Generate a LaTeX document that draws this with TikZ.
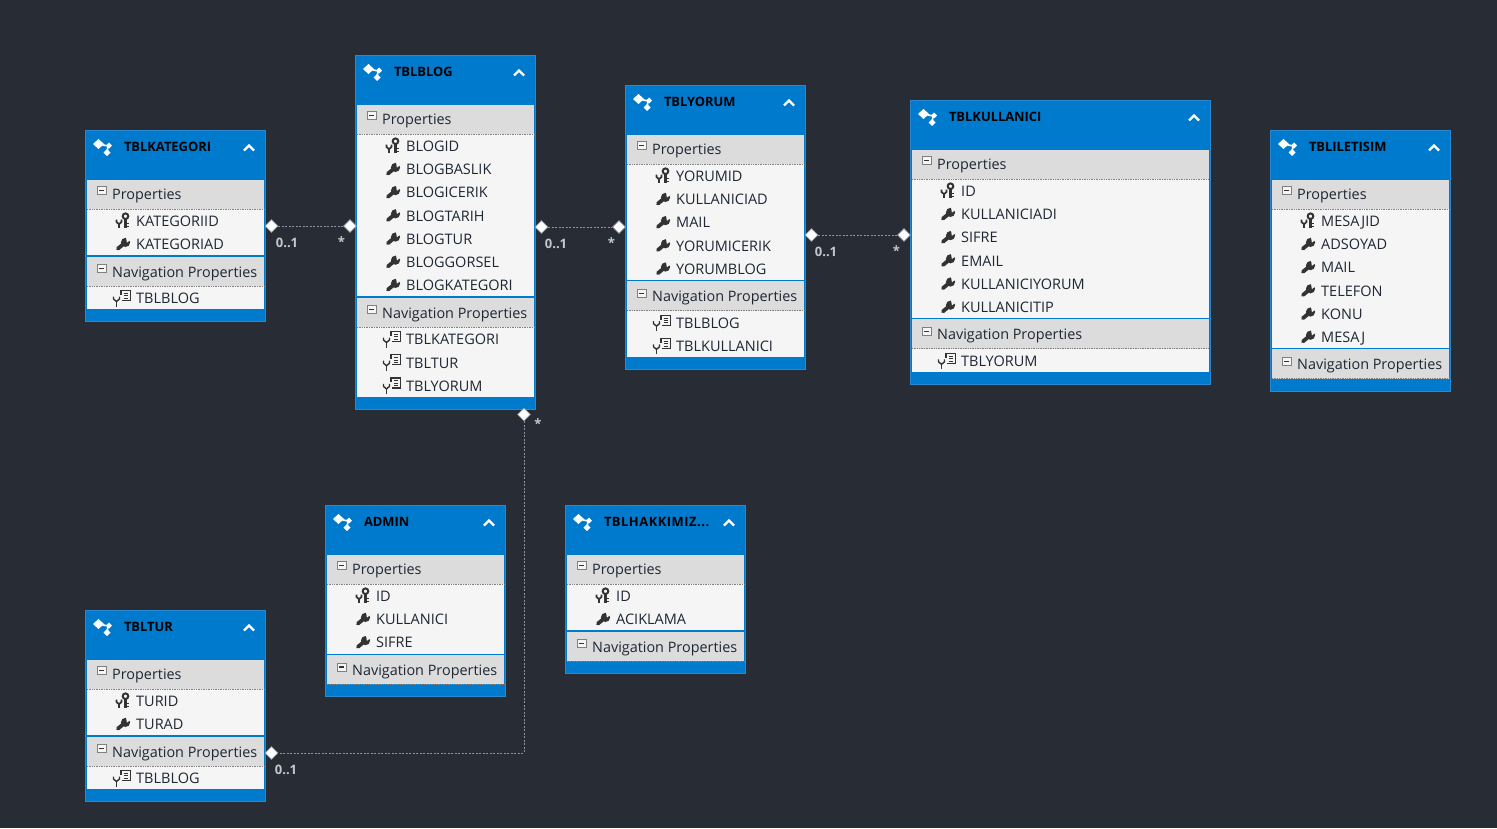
\documentclass[tikz,border=0pt]{standalone}
\usepackage{fontspec}
\setmainfont{Open Sans}
\usetikzlibrary{positioning, shapes.geometric}
\definecolor{canvas}{HTML}{282C35}
\definecolor{headblue}{HTML}{007ACC}
\definecolor{edgeblue}{HTML}{2B88D0}
\definecolor{band}{HTML}{DCDCDC}
\definecolor{rowbg}{HTML}{F5F5F5}
\definecolor{ink}{HTML}{1E2733}
\definecolor{glyph}{HTML}{333333}
\definecolor{linkgray}{HTML}{8A94A3}
\definecolor{cardgray}{HTML}{C4C8CE}

\tikzset{
  entitybox/.style={draw=edgeblue, fill=headblue, line width=1pt, anchor=north west, inner sep=0pt, outer sep=0pt},
  titletext/.style={anchor=base west, inner sep=0pt, text=black, font=\fontsize{12.9}{15}\selectfont\bfseries},
  grouptext/.style={anchor=base west, inner sep=0pt, text=ink, font=\fontsize{14.4}{17}\selectfont},
  rowtext/.style={anchor=base west, inner sep=0pt, text=ink, font=\fontsize{14.5}{17}\selectfont},
  cardtext/.style={inner sep=0pt, text=cardgray, font=\fontsize{13}{15}\selectfont\bfseries},
  enddot/.style={diamond, draw=linkgray, line width=0.6pt, fill=white, minimum width=13pt, minimum height=13pt, inner sep=0pt},
  link/.style={draw=linkgray, line width=1pt, dash pattern=on 2pt off 1.5pt},
  minusicon/.pic={
    \draw[fill=rowbg, draw=gray, line width=0.8pt] (-4.5,-4) rectangle (4.5,4);
    \draw[glyph, line width=1.2pt] (-2.5,0) -- (2.5,0);
  },
  keyicon/.pic={
    \draw[glyph, line width=2pt] (3,-3.8) circle (2.8);
    \draw[glyph, line width=2.4pt] (3,-1) -- (3,8);
    \draw[glyph, line width=1.6pt] (3,3.5) -- (6.5,3.5) (3,6.5) -- (6,6.5);
    \draw[glyph, line width=1.7pt] (-6,-0.5) -- (-6,2) -- (-3.5,4.2) -- (-1,2) -- (-1,-0.5);
    \draw[glyph, line width=2.4pt] (-3.5,4) -- (-3.5,8.3);
  },
  wrenchicon/.pic={
    \draw[glyph, line width=3.8pt, line cap=round] (-4.6,5.4) -- (2,0);
    \fill[glyph] (3,-0.8) circle (4.6);
    \fill[rowbg] (3.4,-6.6) -- (9.4,-4.4) -- (4.4,-0.6) -- cycle;
  },
  navicon/.pic={
    \draw[glyph, line width=1.2pt] (-1.5,-7) rectangle (8,3);
    \draw[glyph, line width=1.1pt] (1,-4) -- (5.5,-4) (1,-1.6) -- (5.5,-1.6) (1,0.8) -- (5.5,0.8);
    \fill[rowbg] (-10,-2.5) rectangle (-0.7,9.5);
    \draw[glyph, line width=1.4pt] (-9,-1) -- (-9,1.5) -- (-6,4) -- (-3,1.5) -- (-3,-1);
    \draw[glyph, line width=1.9pt] (-6,3.5) -- (-6,9);
  },
  crowicon/.pic={
    \draw[white, line width=1.6pt] (-4,-3) -- (5,-1) -- (4,6);
    \fill[white] (-10,-3) -- (-4.5,-8) -- (1,-3) -- (-4.5,2) -- cycle;
    \fill[white] (3,-1.5) -- (6,-4.5) -- (9,-1.5) -- (6,1.5) -- cycle;
    \fill[white] (0.5,5.5) -- (4,2) -- (7.5,5.5) -- (4,9) -- cycle;
  },
}

% one entity: name, x, y, width, title, scalar rows, navigation rows
\newcommand{\entity}[7]{
  \def\nprop{0}
  \def\nnav{0}
  \def\navlist{#7}
  \foreach \p [count=\c] in {#6} {\xdef\nprop{\c}}
  \ifx\navlist\empty\else
    \foreach \p [count=\c] in {#7} {\xdef\nnav{\c}}
  \fi
  \pgfmathsetmacro\navtop{#3+79.6+\nprop*23.2}
  \pgfmathsetmacro\boxh{\navtop+42.4+\nnav*23.2-#3}
  \pgfmathsetmacro\bodyend{\navtop+30+\nnav*23.2}
  \pgfmathsetmacro\boxw{#4-0.5}
  \node[entitybox, minimum width=\boxw pt, minimum height=\boxh pt] (#1) at (#2,#3) {};
  \fill[rowbg] (#2+2,#3+50) rectangle (#2+#4-2,\bodyend);
  \fill[band] (#2+2,#3+50) rectangle (#2+#4-2,#3+79);
  \fill[band] (#2+2,\navtop) rectangle (#2+#4-2,\navtop+30);
  \draw[gray, line width=0.7pt, densely dotted] (#2+2,#3+79.5) -- (#2+#4-2,#3+79.5);
  \draw[gray, line width=0.7pt, densely dotted] (#2+2,\navtop+30) -- (#2+#4-2,\navtop+30);
  \draw[headblue, line width=1.2pt] (#2+2,\navtop) -- (#2+#4-2,\navtop);
  \pic at (#2+18,#3+17) {crowicon};
  \node[titletext] (#1-title) at (#2+38.8,#3+21.2) {#5};
  \draw[white, line width=2.4pt] (#2+#4-22,#3+20.5) -- (#2+#4-17,#3+15.5) -- (#2+#4-12,#3+20.5);
  \pic at (#2+16.5,#3+60.3) {minusicon};
  \node[grouptext] (#1-props) at (#2+27,#3+69) {Properties};
  \foreach \p [count=\c from 0] in {#6} {
    \pgfmathsetmacro\rowy{#3+90+\c*23.2}
    \ifnum\c=0
      \pic at (#2+37.5,\rowy) {keyicon};
    \else
      \pic at (#2+37.5,\rowy) {wrenchicon};
    \fi
    \node[rowtext] (#1-p\c) at (#2+51,\rowy+6.4) {\p};
  }
  \pic at (#2+16.5,\navtop+12.8) {minusicon};
  \node[grouptext] (#1-navs) at (#2+27,\navtop+21) {Navigation Properties};
  \ifx\navlist\empty\else
    \foreach \p [count=\c from 0] in {#7} {
      \pgfmathsetmacro\rowy{\navtop+41.5+\c*23.2}
      \pic at (#2+37.5,\rowy) {navicon};
      \node[rowtext] (#1-n\c) at (#2+51,\rowy+6.3) {\p};
    }
  \fi
}

\begin{document}
\begin{tikzpicture}[x=1pt, y=-1pt]
  \useasboundingbox (0,0) rectangle (1497,828);
  \fill[canvas] (0,0) rectangle (1497,828);

  \entity{kategori}{85}{130}{181}{TBLKATEGORI}{KATEGORIID, KATEGORIAD}{TBLBLOG}
  \entity{blog}{355}{55}{181}{TBLBLOG}{BLOGID, BLOGBASLIK, BLOGICERIK, BLOGTARIH, BLOGTUR, BLOGGORSEL, BLOGKATEGORI}{TBLKATEGORI, TBLTUR, TBLYORUM}
  \entity{yorum}{625}{85}{181}{TBLYORUM}{YORUMID, KULLANICIAD, MAIL, YORUMICERIK, YORUMBLOG}{TBLBLOG, TBLKULLANICI}
  \entity{kullanici}{910}{100}{301}{TBLKULLANICI}{ID, KULLANICIADI, SIFRE, EMAIL, KULLANICIYORUM, KULLANICITIP}{TBLYORUM}
  \entity{iletisim}{1270}{130}{181}{TBLILETISIM}{MESAJID, ADSOYAD, MAIL, TELEFON, KONU, MESAJ}{}
  \entity{admin}{325}{505}{181}{ADMIN}{ID, KULLANICI, SIFRE}{}
  \entity{hakkimiz}{565}{505}{181}{\addfontfeatures{LetterSpace=4}TBLHAKKIMIZ...}{ID, ACIKLAMA}{}
  \entity{tur}{85}{610}{181}{TBLTUR}{TURID, TURAD}{TBLBLOG}

  % relations
  \node[enddot] (katend) at (271.5,226) {};
  \node[enddot] (blogend) at (350,226) {};
  \node[enddot] (blogright) at (541.5,227) {};
  \node[enddot] (yorumleft) at (619,227) {};
  \node[enddot] (yorumright) at (811.5,235) {};
  \node[enddot] (kullend) at (904,235) {};
  \node[enddot] (blogbottom) at (524,414.5) {};
  \node[enddot] (turend) at (271.5,753) {};

  \draw[link] (katend) -- (blogend);
  \draw[link] (blogright) -- (yorumleft);
  \draw[link] (yorumright) -- (kullend);
  \draw[link] (blogbottom) |- (turend);

  \node[cardtext] (lab1) at (287,242.5) {0..1};
  \node[cardtext] (lab2) at (341.5,241.5) {*};
  \node[cardtext] (lab3) at (556,243.5) {0..1};
  \node[cardtext] (lab4) at (611.5,242.5) {*};
  \node[cardtext] (lab5) at (826,251.5) {0..1};
  \node[cardtext] (lab6) at (896.5,250.5) {*};
  \node[cardtext] (lab7) at (538,423.5) {*};
  \node[cardtext] (lab8) at (286,769.5) {0..1};
\end{tikzpicture}
\end{document}
